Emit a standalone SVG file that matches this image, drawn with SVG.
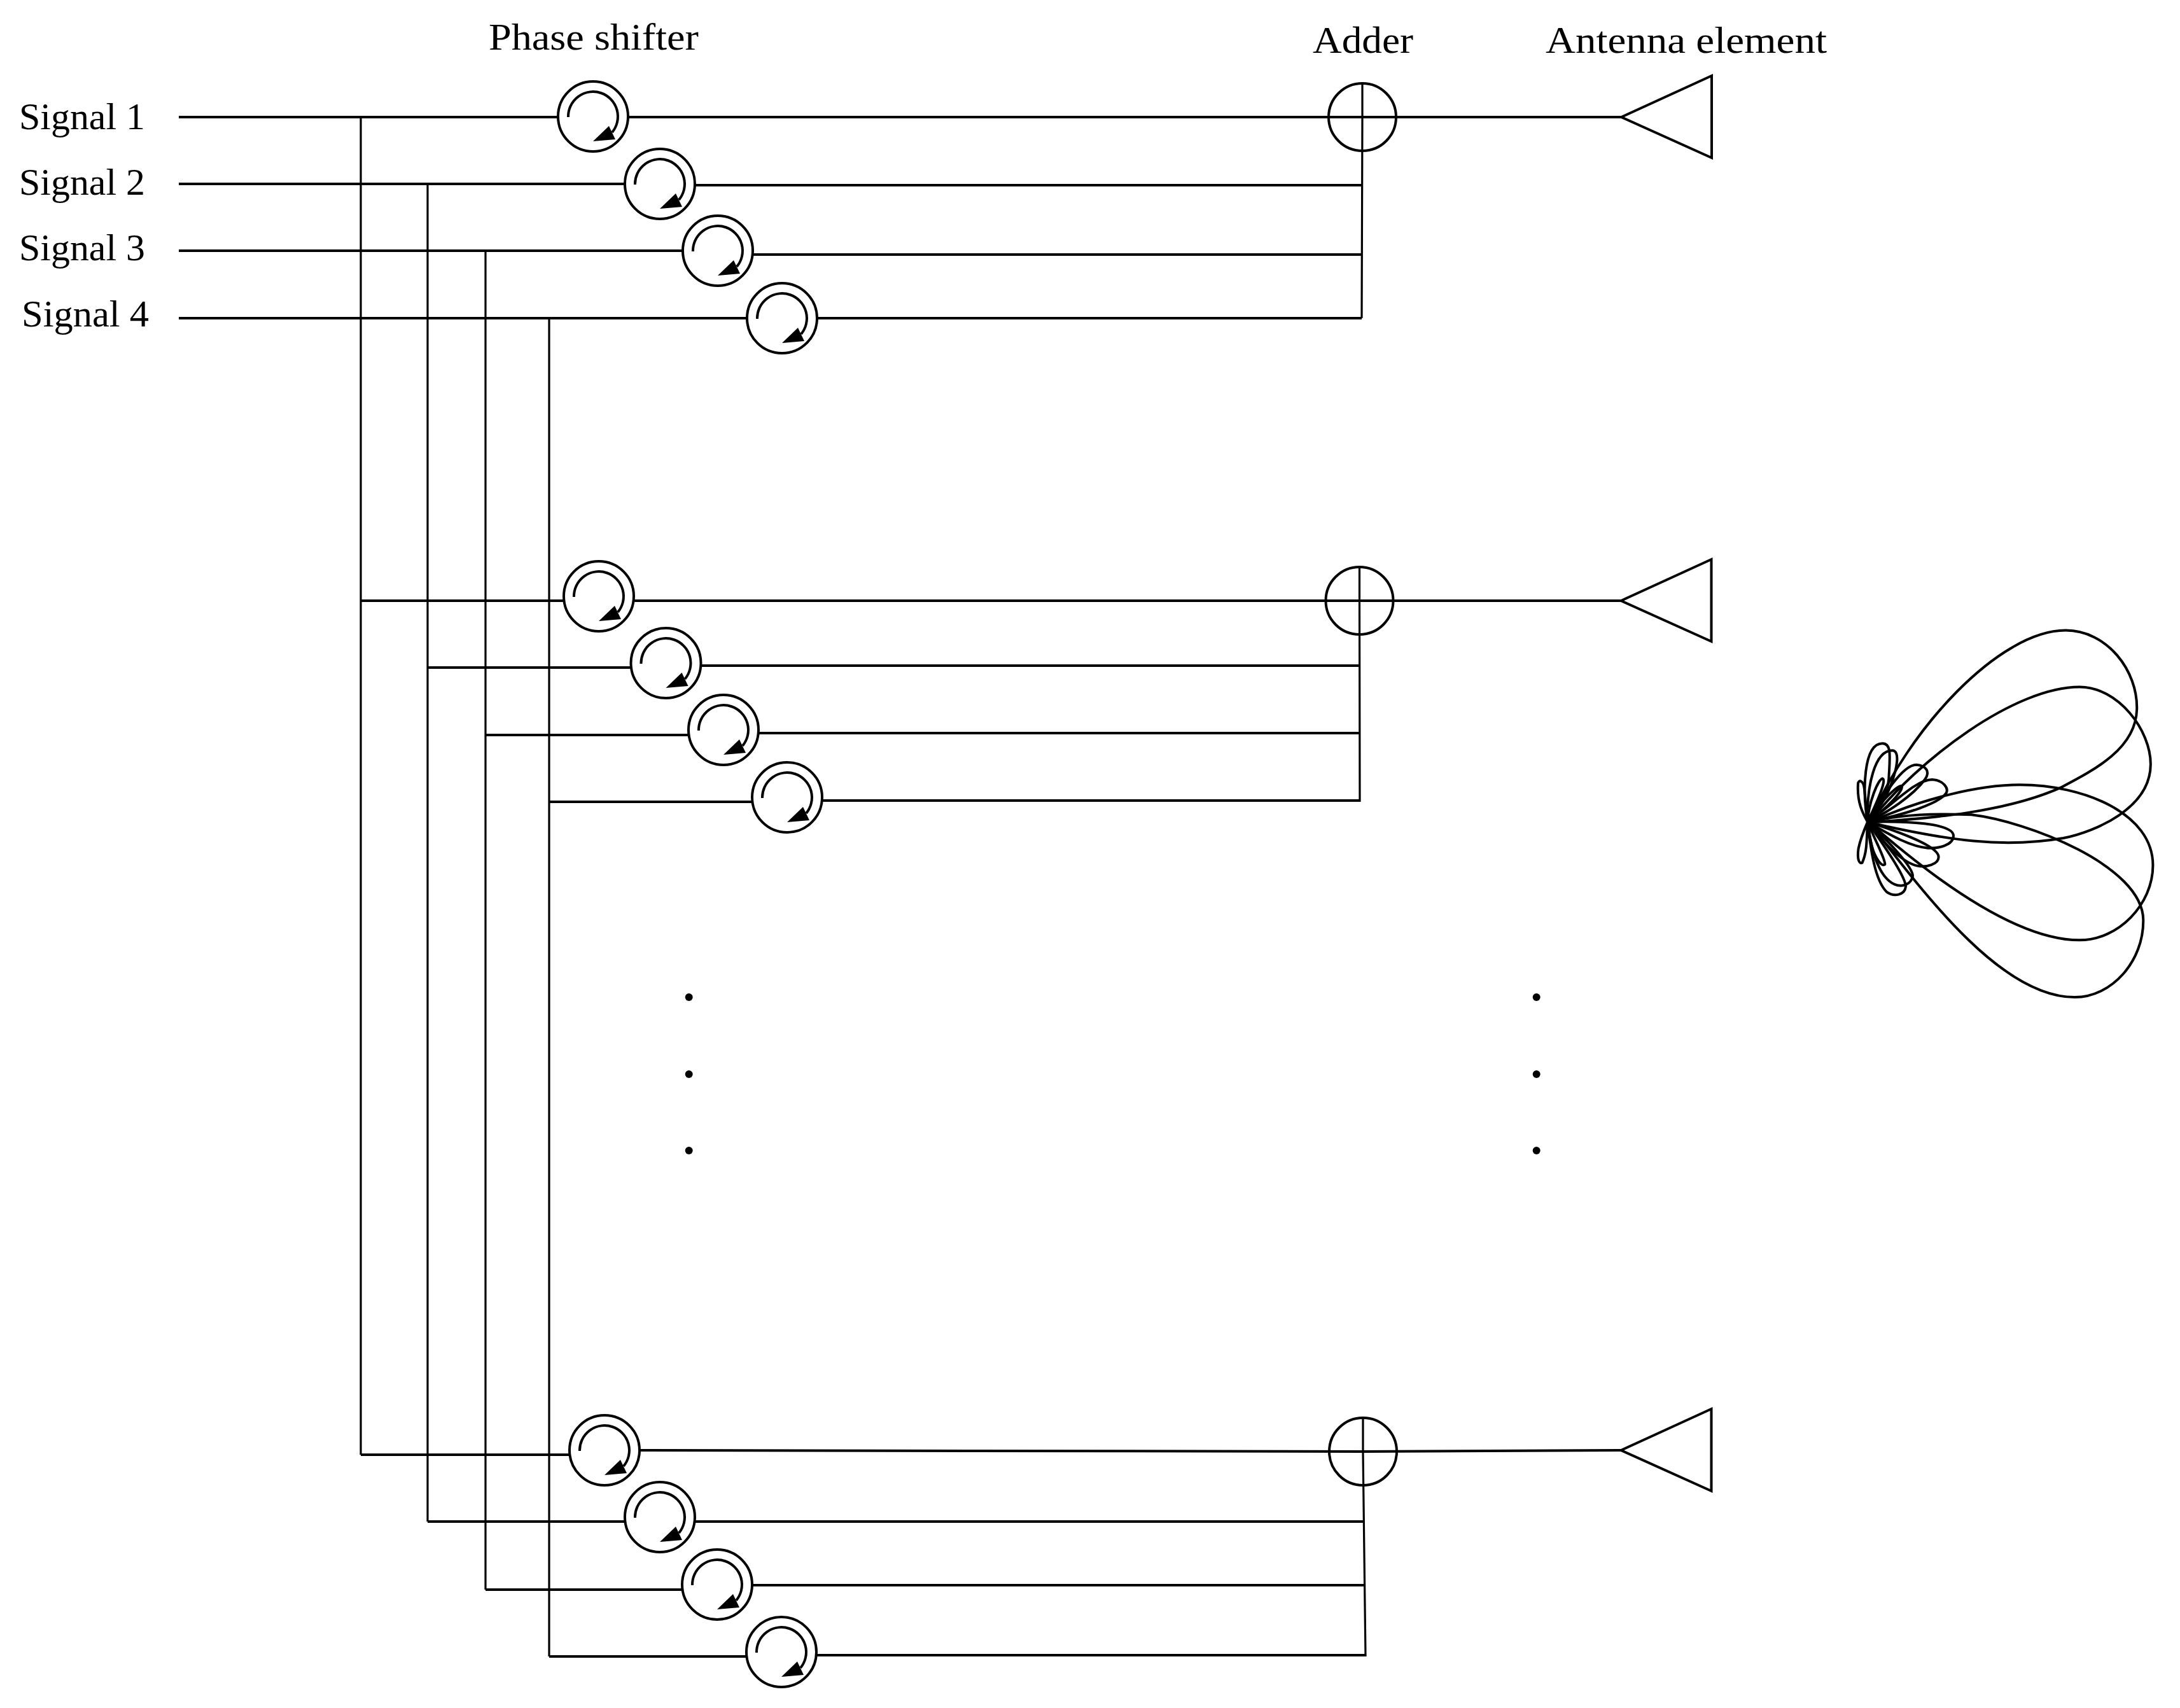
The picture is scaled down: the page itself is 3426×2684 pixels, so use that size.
<svg xmlns="http://www.w3.org/2000/svg" width="3426" height="2684" viewBox="0 0 3426 2684">
<style>
.w{fill:none;stroke:#000;stroke-width:4;stroke-linecap:butt}
.t{stroke-width:3.2}
.o{fill:none;stroke:#000;stroke-width:4}
.l{fill:none;stroke:#000;stroke-width:4;stroke-linejoin:round;vector-effect:non-scaling-stroke}
text{font-family:"Liberation Serif","Times New Roman",serif;font-size:60px;fill:#000}
</style>
<defs>
<g id="ps">
<circle class="o" r="55"/>
<path class="o" d="M-39 1A39 39 0 1 1 30 25"/>
<path d="M25 15L35 36L0 39Z" fill="#000"/>
</g>
<g id="ad"><circle class="o" r="53"/></g>
<g id="ant"><path class="o" d="M0 0L142 -65V64Z" stroke-linejoin="miter"/></g>
</defs>
<rect width="3426" height="2684" fill="#fff"/>
<g id="connectors">
<path class="w" d="M281 184H877M987 184H2548"/>
<path class="w" d="M281 289H982M1092 291H2140"/>
<path class="w" d="M281 394H1073M1183 400H2140"/>
<path class="w" d="M281 500H1174M1284 500H2140"/>
<path class="w t" d="M567 184V2286M672 289V2391M763 394V2498M863 500V2603"/>
<path class="w" d="M567 944H886M996 944H2547"/>
<path class="w" d="M672 1049H992M1101 1046H2135"/>
<path class="w" d="M763 1155H1082M1192 1152H2136"/>
<path class="w" d="M863 1260H1182M1292 1258H2137"/>
<path class="w" d="M567 2286H895M1005 2279L2142 2281L2547 2279"/>
<path class="w" d="M672 2391H982M1092 2391H2143"/>
<path class="w" d="M763 2498H1072M1182 2491H2144"/>
<path class="w" d="M863 2603H1173M1283 2601H2146"/>
<path class="w t" d="M2141 131V184L2140 500M2136.500 891V944L2137 1260M2142 2228V2281L2146 2603"/>
</g>
<g id="ps-1-1"><use href="#ps" x="932" y="183"/></g>
<g id="ps-1-2"><use href="#ps" x="1037" y="289"/></g>
<g id="ps-1-3"><use href="#ps" x="1128" y="394"/></g>
<g id="ps-1-4"><use href="#ps" x="1229" y="500"/></g>
<g id="ps-2-1"><use href="#ps" x="941" y="937"/></g>
<g id="ps-2-2"><use href="#ps" x="1046.500" y="1042"/></g>
<g id="ps-2-3"><use href="#ps" x="1137" y="1147"/></g>
<g id="ps-2-4"><use href="#ps" x="1237" y="1253"/></g>
<g id="ps-3-1"><use href="#ps" x="950" y="2279"/></g>
<g id="ps-3-2"><use href="#ps" x="1037" y="2384"/></g>
<g id="ps-3-3"><use href="#ps" x="1127" y="2490"/></g>
<g id="ps-3-4"><use href="#ps" x="1228" y="2596"/></g>
<g id="adder-1"><use href="#ad" x="2141" y="184"/></g>
<g id="adder-2"><use href="#ad" x="2136.500" y="944"/></g>
<g id="adder-3"><use href="#ad" x="2142" y="2281"/></g>
<g id="antenna-1"><use href="#ant" x="2548" y="184"/></g>
<g id="antenna-2"><use href="#ant" x="2547.500" y="944"/></g>
<g id="antenna-3"><use href="#ant" x="2547.500" y="2279"/></g>
<g id="dots" fill="#000">
<circle cx="1082.700" cy="1567" r="6"/><circle cx="1082.700" cy="1688" r="6"/><circle cx="1082.700" cy="1808" r="6"/>
<circle cx="2414.700" cy="1567" r="6"/><circle cx="2414.700" cy="1688" r="6"/><circle cx="2414.700" cy="1808" r="6"/>
</g>
<g id="beam-main" transform="translate(2860 960) scale(.361 .408)">
<path class="l" d="M215 815C380 460 780 75 1070 75C1250 75 1385 230 1380 380C1375 530 1200 610 1050 680C800 780 450 800 215 815Z"/>
<path class="l" d="M215 815C430 570 850 293 1130 293C1300 293 1440 460 1440 590C1440 760 1200 850 1060 875C800 915 560 885 215 815Z"/>
<path class="l" d="M215 815C450 720 700 670 870 670C1150 670 1450 780 1450 980C1450 1130 1300 1268 1130 1268C850 1268 480 1020 215 815Z"/>
<path class="l" d="M215 815C350 780 520 780 660 785C900 810 1405 980 1408 1190C1410 1350 1270 1488 1110 1488C800 1488 480 1120 215 815Z"/>
</g>
<g id="beam-side" transform="translate(2900 1150) scale(.3333)">
<path class="l" d="M105 425C80 280 85 55 175 55C220 55 210 120 205 220C200 300 150 380 105 425Z"/>
<path class="l" d="M105 425C100 250 140 90 220 88C260 88 245 170 215 250C190 320 140 390 105 425Z"/>
<path class="l" d="M105 425C80 380 55 330 60 245C62 225 85 225 90 270C95 320 100 380 105 425Z"/>
<path class="l" d="M105 425C110 330 155 225 175 220C195 225 160 310 105 425Z"/>
<path class="l" d="M105 425C160 330 250 250 265 255C280 270 200 360 105 425Z"/>
<path class="l" d="M105 425C180 300 270 155 335 155C385 160 400 190 375 225C320 300 200 380 105 425Z"/>
<path class="l" d="M105 425C230 340 330 225 410 225C460 228 490 265 475 290C440 340 280 390 105 425Z"/>
<path class="l" d="M105 425C280 420 510 430 510 490C510 535 440 550 390 548C290 540 170 460 105 425Z"/>
<path class="l" d="M105 425C250 470 440 540 440 590C440 625 380 640 340 632C260 615 170 510 105 425Z"/>
<path class="l" d="M105 425C200 510 320 640 318 680C310 720 270 735 230 718C150 680 120 540 105 425Z"/>
<path class="l" d="M105 425C170 520 285 680 285 730C280 770 230 780 195 755C140 700 120 560 105 425Z"/>
<path class="l" d="M105 425C130 490 190 600 187 625C170 640 140 590 125 540C115 500 110 460 105 425Z"/>
<path class="l" d="M105 425C100 500 105 560 80 617C65 625 55 600 62 550C70 510 90 460 105 425Z"/>
</g>
<g id="labels">
<text x="768" y="78" textLength="330" lengthAdjust="spacingAndGlyphs">Phase shifter</text>
<text x="2063" y="83" textLength="158" lengthAdjust="spacingAndGlyphs">Adder</text>
<text x="2429" y="83" textLength="442" lengthAdjust="spacingAndGlyphs">Antenna element</text>
<text x="30" y="203" textLength="198" lengthAdjust="spacingAndGlyphs">Signal 1</text>
<text x="30" y="306" textLength="198" lengthAdjust="spacingAndGlyphs">Signal 2</text>
<text x="30" y="409" textLength="198" lengthAdjust="spacingAndGlyphs">Signal 3</text>
<text x="34" y="513" textLength="200" lengthAdjust="spacingAndGlyphs">Signal 4</text>
</g>
</svg>
